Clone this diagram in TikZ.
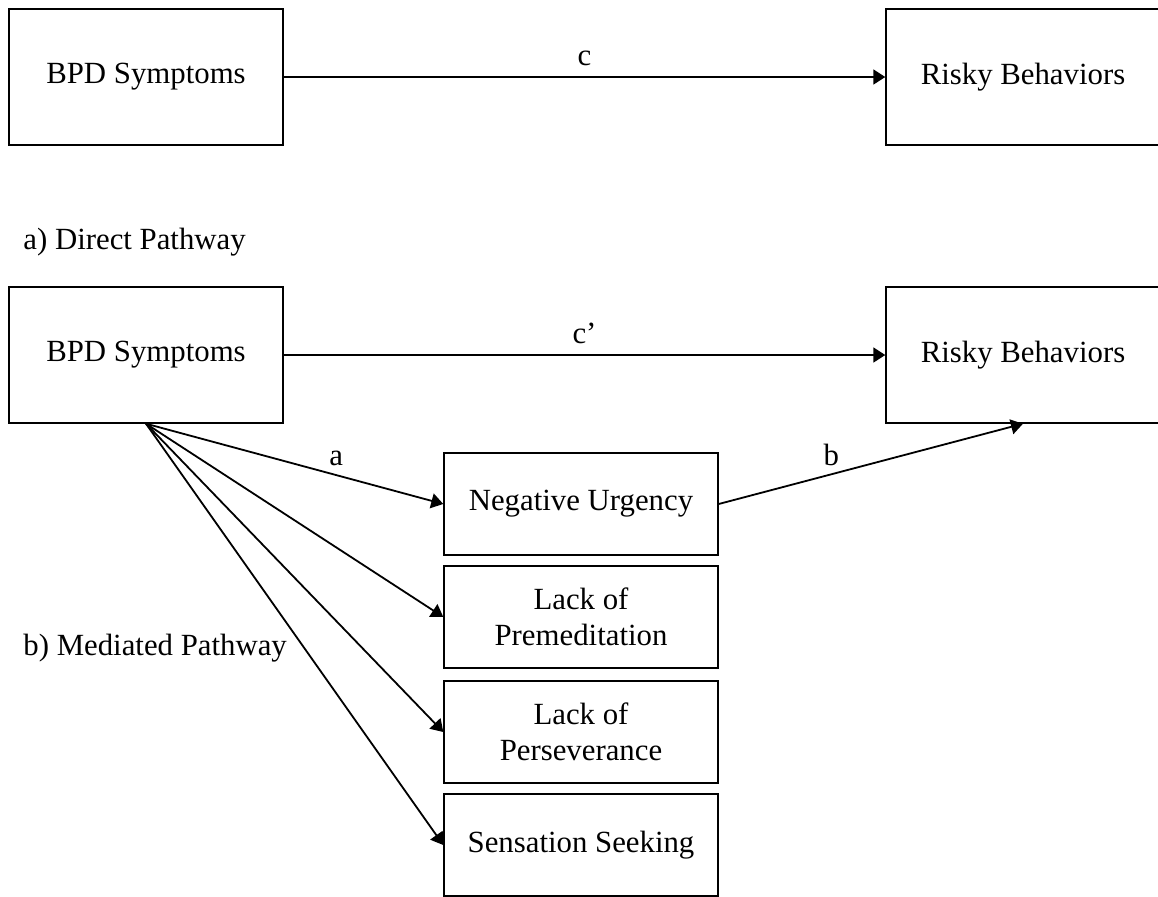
\documentclass[tikz,border=0pt]{standalone}
\usepackage{fontspec}
\setmainfont{Liberation Serif}
\usetikzlibrary{arrows.meta,positioning}

\begin{document}
\begin{tikzpicture}[x=0.5pt, y=-0.5pt,
    every node/.style={font=\fontsize{15.4}{18}\selectfont},
    bigbox/.style={draw, line width=0.7pt, minimum width=137pt, minimum height=68pt, inner sep=0pt},
    medbox/.style={draw, line width=0.7pt, minimum width=137pt, minimum height=51pt, inner sep=0pt, align=center},
    path/.style={line width=0.9pt, -{Triangle[length=6pt, width=7.5pt]}},
    lbl/.style={inner sep=0pt}]
    \useasboundingbox (0,0) rectangle (1158,896);

    % a) direct pathway
    \node[bigbox] (bpdA) at (146,77) {BPD Symptoms};
    \node[bigbox] (riskyA) at (1023,77) {Risky Behaviors};
    \draw[path] (bpdA) -- (riskyA) node[lbl, midway, above=5pt] {c};
    \node[anchor=west, inner sep=0pt] (capA) at (23,242) {a) Direct Pathway};

    % b) mediated pathway
    \node[bigbox] (bpdB) at (146,355) {BPD Symptoms};
    \node[bigbox] (riskyB) at (1023,355) {Risky Behaviors};
    \draw[path] (bpdB) -- (riskyB) node[lbl, midway, above=5pt] {c’};
    \node[anchor=west, inner sep=0pt] (capB) at (23,648) {b) Mediated Pathway};

    \node[medbox] (negurg) at (581,504) {Negative Urgency};
    \node[medbox] (premed) at (581,617) {Lack of\\Premeditation};
    \node[medbox] (persev) at (581,732) {Lack of\\Perseverance};
    \node[medbox] (sensek) at (581,845) {Sensation Seeking};

    \draw[path] (bpdB.south) -- (negurg.west) node[lbl, pos=0.64, above=4pt] {a};
    \foreach \med in {premed,persev,sensek}
        \draw[path] (bpdB.south) -- (\med.west);
    \draw[path] (negurg.east) -- (riskyB.south) node[lbl, pos=0.37, above=4pt] {b};
\end{tikzpicture}
\end{document}
